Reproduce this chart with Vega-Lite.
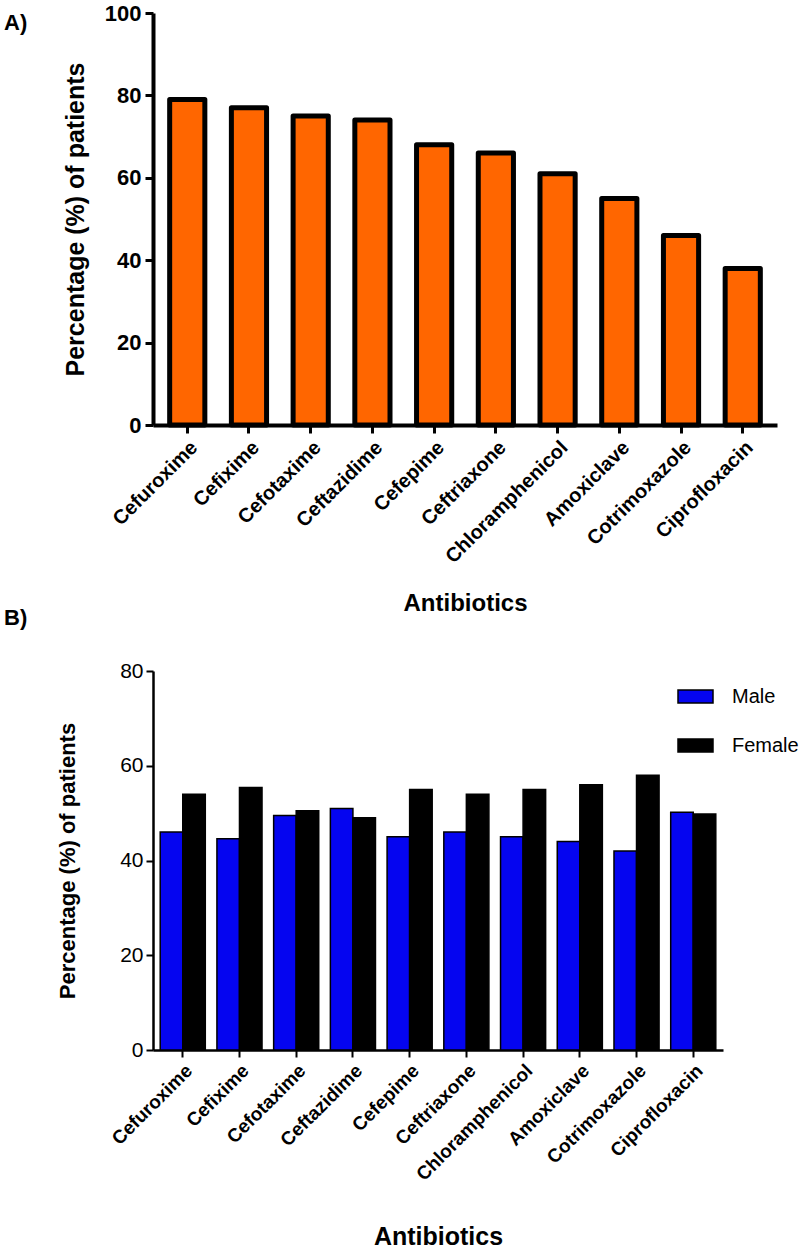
{
  "$schema": "https://vega.github.io/schema/vega-lite/v6.json",
  "padding": {"left": 4, "top": 2, "right": 2, "bottom": 2},
  "background": "white",
  "config": {
    "view": {"stroke": null},
    "font": "Liberation Sans",
    "axis": {"labelFont": "Liberation Sans", "titleFont": "Liberation Sans", "labelColor": "black", "titleColor": "black", "domainColor": "black", "tickColor": "black", "grid": false}
  },
  "datasets": {
    "overall": [
      {"antibiotic": "Cefuroxime", "pct": 79},
      {"antibiotic": "Cefixime", "pct": 77},
      {"antibiotic": "Cefotaxime", "pct": 75},
      {"antibiotic": "Ceftazidime", "pct": 74},
      {"antibiotic": "Cefepime", "pct": 68},
      {"antibiotic": "Ceftriaxone", "pct": 66},
      {"antibiotic": "Chloramphenicol", "pct": 61},
      {"antibiotic": "Amoxiclave", "pct": 55},
      {"antibiotic": "Cotrimoxazole", "pct": 46},
      {"antibiotic": "Ciprofloxacin", "pct": 38}
    ],
    "bysex": [
      {"antibiotic": "Cefuroxime", "sex": "Male", "pct": 46},
      {"antibiotic": "Cefuroxime", "sex": "Female", "pct": 54},
      {"antibiotic": "Cefixime", "sex": "Male", "pct": 44.6},
      {"antibiotic": "Cefixime", "sex": "Female", "pct": 55.4},
      {"antibiotic": "Cefotaxime", "sex": "Male", "pct": 49.5},
      {"antibiotic": "Cefotaxime", "sex": "Female", "pct": 50.5},
      {"antibiotic": "Ceftazidime", "sex": "Male", "pct": 51},
      {"antibiotic": "Ceftazidime", "sex": "Female", "pct": 49},
      {"antibiotic": "Cefepime", "sex": "Male", "pct": 45},
      {"antibiotic": "Cefepime", "sex": "Female", "pct": 55},
      {"antibiotic": "Ceftriaxone", "sex": "Male", "pct": 46},
      {"antibiotic": "Ceftriaxone", "sex": "Female", "pct": 54},
      {"antibiotic": "Chloramphenicol", "sex": "Male", "pct": 45},
      {"antibiotic": "Chloramphenicol", "sex": "Female", "pct": 55},
      {"antibiotic": "Amoxiclave", "sex": "Male", "pct": 44},
      {"antibiotic": "Amoxiclave", "sex": "Female", "pct": 56},
      {"antibiotic": "Cotrimoxazole", "sex": "Male", "pct": 42},
      {"antibiotic": "Cotrimoxazole", "sex": "Female", "pct": 58},
      {"antibiotic": "Ciprofloxacin", "sex": "Male", "pct": 50.2},
      {"antibiotic": "Ciprofloxacin", "sex": "Female", "pct": 49.8}
    ]
  },
  "bounds": "flush",
  "spacing": 246,
  "vconcat": [
    {
      "width": 624,
      "height": 412,
      "title": {"text": "A)", "anchor": "start", "frame": "group", "dx": -149, "dy": 37, "fontSize": 22, "fontWeight": "bold", "font": "Liberation Sans", "color": "black"},
      "data": {"name": "overall"},
      "mark": {"type": "bar", "fill": "#FF6600", "stroke": "black", "strokeWidth": 5, "strokeJoin": "round"},
      "encoding": {
        "x": {
          "field": "antibiotic", "type": "nominal", "sort": null,
          "scale": {"paddingInner": 0.43, "paddingOuter": 0.27},
          "axis": {"title": "Antibiotics", "titleFontSize": 24, "titleFontWeight": "bold", "titlePadding": 25,
                   "labelAngle": -45, "labelFontSize": 20, "labelFontWeight": "bold", "labelPadding": 4,
                   "domainWidth": 4, "tickWidth": 3, "tickSize": 8}
        },
        "y": {
          "field": "pct", "type": "quantitative",
          "scale": {"domain": [0, 100]},
          "axis": {"title": "Percentage (%) of patients", "titleFontSize": 25, "titleFontWeight": "bold", "titlePadding": 16,
                   "values": [0, 20, 40, 60, 80, 100], "labelFontSize": 22, "labelFontWeight": "bold", "labelPadding": 4,
                   "domainWidth": 4, "tickWidth": 3, "tickSize": 8}
        }
      }
    },
    {
      "width": 570,
      "height": 379,
      "title": {"text": "B)", "anchor": "start", "frame": "group", "dx": -149, "offset": 30, "fontSize": 22, "fontWeight": "bold", "font": "Liberation Sans", "color": "black"},
      "data": {"name": "bysex"},
      "mark": {"type": "bar", "stroke": "black", "strokeWidth": 1.5},
      "encoding": {
        "x": {
          "field": "antibiotic", "type": "nominal", "sort": null,
          "scale": {"paddingInner": 0.205, "paddingOuter": 0.127},
          "axis": {"title": "Antibiotics", "titleFontSize": 25, "titleFontWeight": "bold", "titlePadding": 40,
                   "labelAngle": -45, "labelFontSize": 19, "labelFontWeight": "bold", "labelPadding": 4,
                   "domainWidth": 2.5, "tickWidth": 2, "tickSize": 7}
        },
        "xOffset": {"field": "sex", "type": "nominal", "sort": ["Male", "Female"], "scale": {"paddingInner": 0}},
        "y": {
          "field": "pct", "type": "quantitative",
          "scale": {"domain": [0, 80]},
          "axis": {"title": "Percentage (%) of patients", "titleFontSize": 22, "titleFontWeight": "bold", "titlePadding": 40,
                   "values": [0, 20, 40, 60, 80], "labelFontSize": 21, "labelFontWeight": "normal", "labelPadding": 3,
                   "domainWidth": 2.5, "tickWidth": 2, "tickSize": 7}
        },
        "color": {
          "field": "sex", "type": "nominal",
          "scale": {"domain": ["Male", "Female"], "range": ["#0505F0", "#000000"]},
          "legend": {"title": null, "orient": "none", "legendX": 524, "legendY": 665, "padding": 0,
                     "symbolType": "M-1,-0.37H1V0.37H-1Z", "symbolSize": 1225, "symbolStrokeColor": "black", "symbolStrokeWidth": 1.5,
                     "labelFontSize": 20, "labelFont": "Liberation Sans", "labelColor": "black", "labelOffset": 18, "rowPadding": 20}
        }
      }
    }
  ]
}
